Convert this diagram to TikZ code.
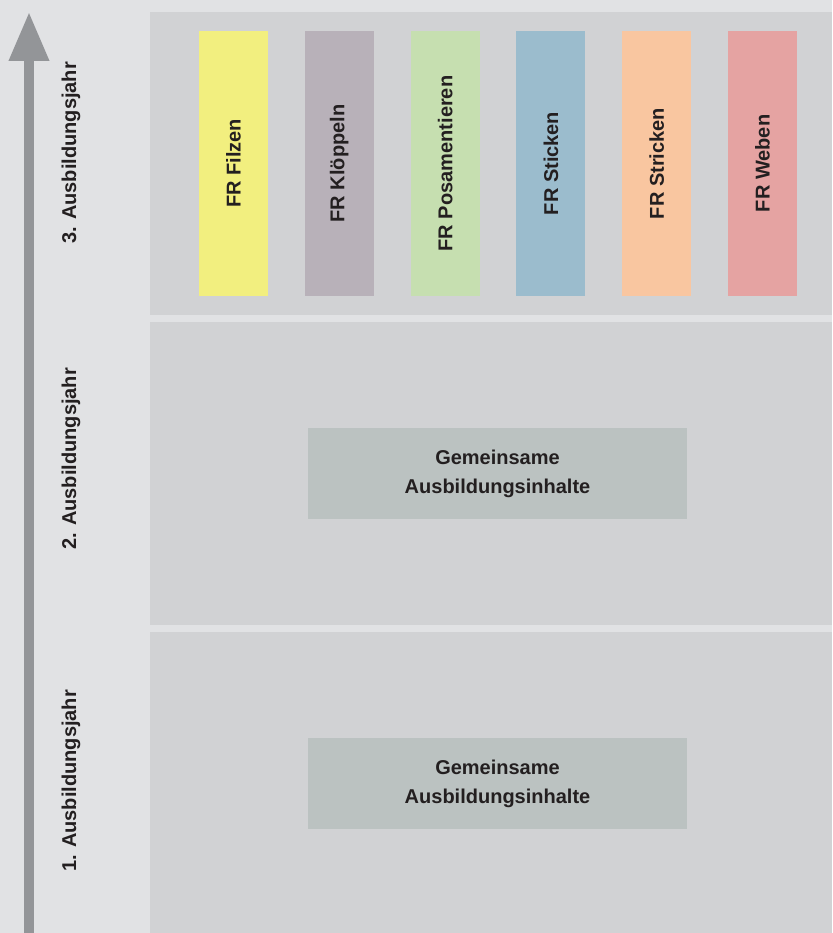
\documentclass[tikz,border=0pt]{standalone}
\usepackage{fontspec}
\setmainfont{Liberation Sans}
\usepackage{tikz}
\usetikzlibrary{positioning, arrows.meta}

\definecolor{bggrey}{HTML}{E1E2E4}
\definecolor{panelgrey}{HTML}{D1D2D4}
\definecolor{boxgrey}{HTML}{BBC2C1}
\definecolor{arrowgrey}{HTML}{939598}
\definecolor{textdark}{HTML}{231F20}
\definecolor{filzen}{HTML}{F2EF7F}
\definecolor{kloeppeln}{HTML}{B8B1B9}
\definecolor{posament}{HTML}{C6DFB0}
\definecolor{sticken}{HTML}{9BBCCD}
\definecolor{stricken}{HTML}{F9C6A0}
\definecolor{weben}{HTML}{E5A3A2}

\begin{document}
\begin{tikzpicture}[x=1pt, y=1pt, node distance=310pt]

\tikzstyle{panel} =
[rectangle,
minimum width=682pt,
minimum height=303pt,
inner sep=0pt,
fill=panelgrey]

\tikzstyle{fach} =
[rectangle,
minimum width=69pt,
minimum height=265pt,
inner sep=0pt,
node distance=105.8pt,
text=textdark,
font=\bfseries\fontsize{20}{24}\selectfont]

\tikzstyle{gemeinsam} =
[rectangle,
minimum width=379pt,
minimum height=91pt,
inner sep=0pt,
align=center,
fill=boxgrey,
text=textdark,
font=\bfseries\fontsize{20}{29}\selectfont]

\tikzstyle{jahr} =
[rotate=90,
inner sep=0pt,
text=textdark,
font=\bfseries\fontsize{20}{24}\selectfont]

\tikzstyle{zeitpfeil} =
[arrowgrey,
line width=10pt,
-{Triangle[length=49pt, width=38pt]}]

\useasboundingbox[fill=bggrey] (0,0) rectangle (832,933);

% Ausbildungsjahre
\node (year3) [panel] at (491,769.5) {};
\node (year2) [panel, below of=year3] {};
\node (year1) [panel, below of=year2] {};

% Fachrichtungen im 3. Jahr
\node (filzen) [fach, fill=filzen] at (233.5,769.5)
{\rotatebox{90}{FR Filzen}};
\node (kloeppeln) [fach, fill=kloeppeln, right of=filzen]
{\rotatebox{90}{FR Klöppeln}};
\node (posament) [fach, fill=posament, right of=kloeppeln]
{\rotatebox{90}{FR Posamentieren}};
\node (sticken) [fach, fill=sticken, right of=posament]
{\rotatebox{90}{FR Sticken}};
\node (stricken) [fach, fill=stricken, right of=sticken]
{\rotatebox{90}{FR Stricken}};
\node (weben) [fach, fill=weben, right of=stricken]
{\rotatebox{90}{FR Weben}};

% gemeinsame Inhalte
\node (inhalt2) [gemeinsam, xshift=6.5pt] at (year2.center)
{Gemeinsame\\Ausbildungsinhalte};
\node (inhalt1) [gemeinsam, xshift=6.5pt] at (year1.center)
{Gemeinsame\\Ausbildungsinhalte};

% Beschriftung links
\node (label3) [jahr] at (71,780) {3. Ausbildungsjahr};
\node (label2) [jahr] at (71,474) {2. Ausbildungsjahr};
\node (label1) [jahr] at (71,152) {1. Ausbildungsjahr};

\coordinate (arrowfoot) at (29,0);
\coordinate (arrowtip) at (29,921);
\draw[zeitpfeil] (arrowfoot) -- (arrowtip);

\end{tikzpicture}
\end{document}
